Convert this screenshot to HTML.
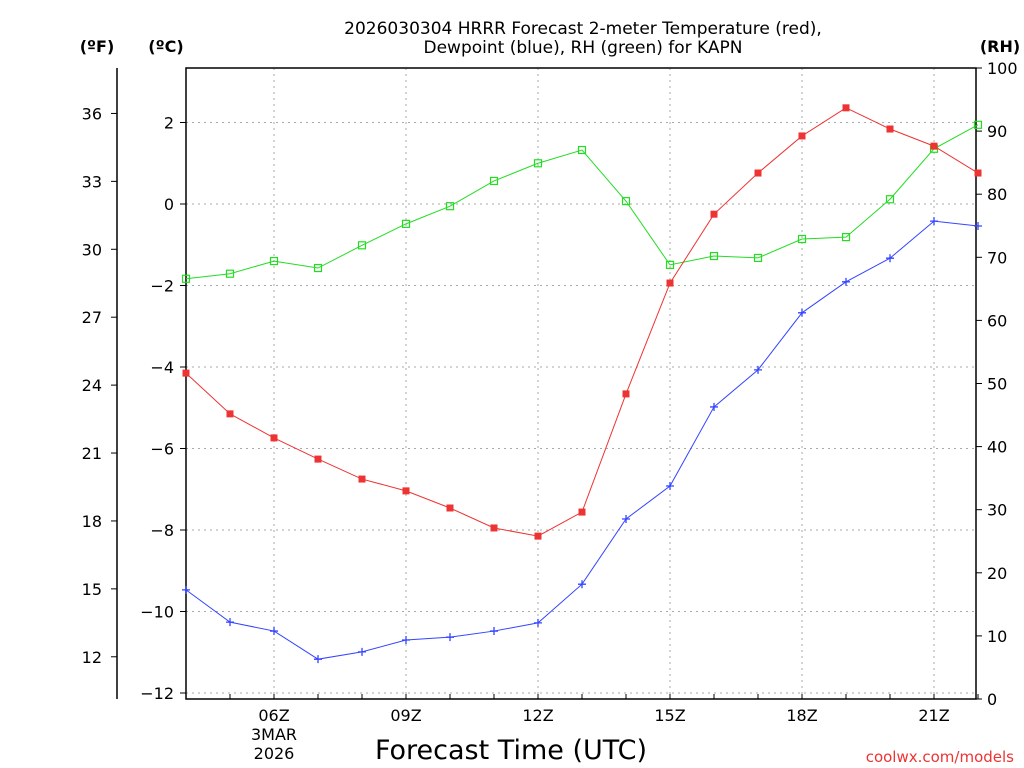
<!DOCTYPE html>
<html><head><meta charset="utf-8"><style>
body{margin:0;background:#fff}
svg{display:block;font-family:"DejaVu Sans","Liberation Sans",sans-serif}
</style></head><body>
<svg id="c" width="1024" height="768" xmlns="http://www.w3.org/2000/svg"></svg>
<script>
const hours=[4,5,6,7,8,9,10,11,12,13,14,15,16,17,18,19,20,21,22];
const tempC=[-4.15,-5.15,-5.74,-6.26,-6.75,-7.04,-7.46,-7.95,-8.15,-7.56,-4.66,-1.94,-0.25,0.76,1.67,2.36,1.84,1.42,0.76];
const dewC=[-9.47,-10.26,-10.48,-11.17,-10.99,-10.70,-10.63,-10.48,-10.28,-9.33,-7.73,-6.92,-4.98,-4.07,-2.67,-1.91,-1.33,-0.42,-0.54];
const rh=[66.6,67.4,69.4,68.3,71.9,75.3,78.1,82.1,84.9,87.0,78.9,68.8,70.2,69.9,72.9,73.2,79.2,87.2,91.0];
const cTicks=[2,0,-2,-4,-6,-8,-10,-12];
const fTicks=[36,33,30,27,24,21,18,15,12];
const rhTicks=[0,10,20,30,40,50,60,70,80,90,100];
const xTickHours=[6,9,12,15,18,21];
const xTickLabels=["06Z","09Z","12Z","15Z","18Z","21Z"];

const L=186,R=976,T=68,B=699;
const xs=h=>274+(h-6)*44;
const yC=c=>204-c*40.75;
const yF=f=>yC((f-32)*5/9);
const yRH=r=>B-(r/100)*(B-T);
const svg=document.getElementById('c');
const NS='http://www.w3.org/2000/svg';
function el(tag,attrs,text){const e=document.createElementNS(NS,tag);for(const k in attrs)e.setAttribute(k,attrs[k]);if(text!==undefined)e.textContent=text;svg.appendChild(e);return e;}

// grid
cTicks.forEach(c=>{const e=el('line',{x1:L,x2:R,y1:yC(c),y2:yC(c),stroke:'#aaa','stroke-dasharray':'2,4'});

});
xTickHours.forEach(h=>{const e=el('line',{x1:xs(h),x2:xs(h),y1:T,y2:B,stroke:'#aaa','stroke-dasharray':'2,4'});

});

// frame
let fr=el('rect',{x:L,y:T,width:R-L,height:B-T,fill:'none',stroke:'#000','stroke-width':1.5});


let fa=el('line',{x1:117,x2:117,y1:T,y2:B,stroke:'#000','stroke-width':1.5});



// ticks & labels
cTicks.forEach(c=>{el('line',{x1:180,x2:L,y1:yC(c),y2:yC(c),stroke:'#000'});
const t=el('text',{x:174,y:yC(c)+6,'text-anchor':'end','font-size':16},String(c).replace('-','\u2212'));

});
fTicks.forEach(f=>{el('line',{x1:111,x2:117,y1:yF(f),y2:yF(f),stroke:'#000'});
const t=el('text',{x:102,y:yF(f)+6,'text-anchor':'end','font-size':16},String(f));

});
rhTicks.forEach(r=>{el('line',{x1:R,x2:R+6,y1:yRH(r),y2:yRH(r),stroke:'#000'});
const t=el('text',{x:987,y:yRH(r)+6,'text-anchor':'start','font-size':16},String(r));

});
hours.forEach(h=>{el('line',{x1:xs(h),x2:xs(h),y1:B,y2:B-5,stroke:'#000'});});
xTickHours.forEach((h,i)=>{const t=el('text',{x:xs(h),y:721,'text-anchor':'middle','font-size':16},xTickLabels[i]);

});
[["3MAR",740],["2026",759]].forEach(a=>{const t=el('text',{x:274,y:a[1],'text-anchor':'middle','font-size':16},a[0]);

});

// series
function series(vals,yf,color,marker,name){
  const pts=hours.map((h,i)=>[xs(h),yf(vals[i])]);
  const p=el('polyline',{points:pts.map(p=>p.join(',')).join(' '),fill:'none',stroke:color,'stroke-width':1});
  
  
  pts.forEach(([x,y])=>{let m;
    if(marker==='fill'){m=el('rect',{x:x-3.5,y:y-3.5,width:7,height:7,fill:color});}
    else if(marker==='open'){m=el('rect',{x:x-3.5,y:y-3.5,width:7,height:7,fill:'none',stroke:color,'stroke-width':1.2});}
    else {m=el('path',{d:`M${x-4},${y}H${x+4}M${x},${y-4}V${y+4}`,stroke:color,'stroke-width':1.3});}
    
    });
}
series(rh,yRH,'#22dd22','open','rh');
series(tempC,yC,'#ee3333','fill','temperature');
series(dewC,yC,'#3344ff','plus','dewpoint');

// titles
[["2026030304 HRRR Forecast 2-meter Temperature (red),",34],["Dewpoint (blue), RH (green) for KAPN",53]].forEach(a=>{
const t=el('text',{x:583,y:a[1],'text-anchor':'middle','font-size':17},a[0]);

});
[["(\u00baF)",97],["(\u00baC)",166],["(RH)",1000]].forEach(a=>{
const t=el('text',{x:a[1],y:52,'text-anchor':'middle','font-size':16,'font-weight':'bold'},a[0]);

});
let xt=el('text',{x:511,y:759,'text-anchor':'middle','font-size':27},'Forecast Time (UTC)');


let cr=el('text',{x:1014,y:762,'text-anchor':'end','font-size':15,fill:'#ee3333'},'coolwx.com/models');


</script>
</body></html>
